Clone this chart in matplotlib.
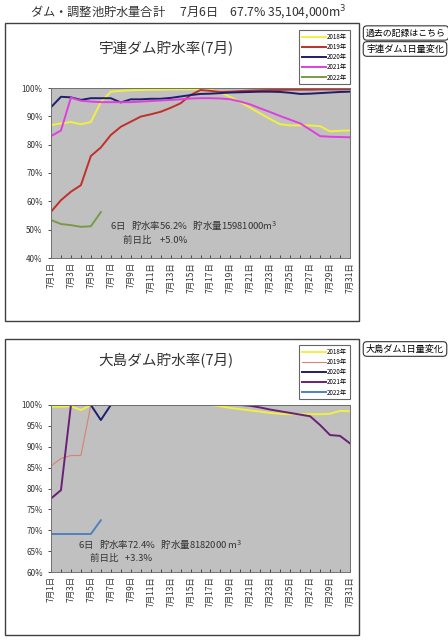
import matplotlib
matplotlib.use('Agg')
import matplotlib.pyplot as plt
from matplotlib.patches import Rectangle
from matplotlib.ticker import FixedLocator, PercentFormatter

plt.rcParams['font.family'] = ['Noto Sans CJK JP', 'DejaVu Sans']

# Data (July, day 1..31)
days = list(range(1, 32))
tick_days = list(range(1, 32, 2))
tick_labels = [f'7月{d}日' for d in tick_days]
years = ['2018年', '2019年', '2020年', '2021年', '2022年']

# 宇連ダム 貯水率 (%)
uren_2018 = [86.9, 87.5, 88.0, 87.2, 88.0, 95.0, 98.7, 99.0, 99.2, 99.3, 99.4,
             99.4, 99.5, 99.5, 99.5, 99.5, 99.3, 98.5, 96.8, 95.0, 93.0, 91.0,
             89.0, 87.2, 86.8, 86.8, 86.8, 86.5, 84.7, 84.9, 85.0]
uren_2019 = [56.3, 60.4, 63.4, 65.7, 76.0, 79.0, 83.4, 86.3, 88.1, 89.9, 90.7,
             91.6, 93.0, 94.6, 97.5, 99.3, 99.0, 98.6, 98.7, 98.9, 99.1, 99.2,
             99.3, 99.3, 99.4, 99.4, 99.4, 99.5, 99.5, 99.5, 99.6]
uren_2020 = [93.2, 96.9, 96.7, 95.8, 96.4, 96.4, 96.4, 94.9, 96.0, 96.0, 96.2,
             96.2, 96.5, 97.0, 97.5, 97.9, 98.0, 98.2, 98.4, 98.5, 98.6, 98.7,
             98.7, 98.6, 98.3, 97.9, 98.0, 98.2, 98.4, 98.6, 98.7]
uren_2021 = [83.0, 85.0, 96.6, 95.5, 95.2, 95.0, 95.0, 95.0, 95.0, 95.2, 95.4,
             95.6, 95.8, 96.0, 96.3, 96.4, 96.4, 96.3, 96.0, 95.2, 94.2, 92.8,
             91.5, 90.1, 88.8, 87.5, 85.3, 83.0, 82.8, 82.7, 82.6]
uren_2022 = [53.4, 52.0, 51.6, 51.0, 51.2, 56.2]

# 大島ダム 貯水率 (%)
oshima_2018 = [99.6, 99.6, 99.7, 98.8, 100, 100, 100, 100, 100, 100, 100,
               100, 100, 100, 100, 100, 100, 99.7, 99.3, 99.0, 98.7, 98.4,
               98.1, 97.9, 97.8, 97.8, 97.8, 97.8, 97.9, 98.6, 98.5]
oshima_2019 = [85.4, 87.2, 87.9, 87.9] + [100] * 27
oshima_2020 = [100, 100, 100, 100, 100, 96.4] + [100] * 25
oshima_2021 = [77.6, 79.6] + [100] * 18 + [99.8, 99.4, 98.9, 98.5, 98.1, 97.7,
                                           97.3, 95.2, 92.8, 92.6, 90.8]
oshima_2022 = [69.1, 69.1, 69.1, 69.1, 69.1, 72.4]

uren_colors = ['#f0f040', '#c0302a', '#1e1e6e', '#dd40dd', '#7a9a48']
oshima_colors = ['#f0f040', '#d9826e', '#1e1e70', '#6a1f78', '#4f81bd']
uren_widths = [1.4] * 5
oshima_widths = [1.4, 0.8, 1.4, 1.4, 1.4]

W, H = 448, 640
fig = plt.figure(figsize=(W / 100, H / 100), dpi=100)


def fx(px):
    return px / W


def fy(py):
    return 1 - py / H


# header
fig.text(fx(30), fy(13), 'ダム・調整池貯水量合計　 7月6日　67.7% 35,104,000m$^3$',
         fontsize=8.8, color='#333333', va='center')

# outer boxes
for top, bottom in [(23, 321), (339, 635)]:
    fig.patches.append(Rectangle((fx(5), fy(bottom)), fx(359) - fx(5),
                                 fy(top) - fy(bottom), transform=fig.transFigure,
                                 fill=False, ec='#404040', lw=1.0))

# buttons
btn = dict(boxstyle='round,pad=0.3,rounding_size=0.4', fc='white', ec='#333333', lw=0.8)
fig.text(fx(366), fy(33), '過去の記録はこちら', fontsize=6.4, va='center', bbox=btn)
fig.text(fx(366), fy(49), '宇連ダム1日量変化', fontsize=6.6, va='center', bbox=btn)
fig.text(fx(366), fy(349), '大島ダム1日量変化', fontsize=6.6, va='center', bbox=btn)


def draw_chart(top_px, bottom_px, title, title_y, series, colors, widths,
               ylim, ystep, legend_top, notes):
    ax = fig.add_axes([fx(51), fy(bottom_px), fx(350) - fx(51), fy(top_px) - fy(bottom_px)])
    ax.set_facecolor('#c0c0c0')
    for vals, c, w, lab in zip(series, colors, widths, years):
        ax.plot(days[:len(vals)], vals, color=c, lw=w, label=lab)
    ax.set_xlim(1, 31)
    ax.set_ylim(*ylim)
    ax.yaxis.set_major_locator(FixedLocator(list(range(ylim[0], ylim[1] + 1, ystep))))
    ax.yaxis.set_major_formatter(PercentFormatter(decimals=0))
    ax.set_xticks(tick_days)
    ax.set_xticklabels(tick_labels, rotation=90)
    ax.xaxis.set_minor_locator(FixedLocator(days))
    ax.tick_params(axis='x', which='both', direction='in', length=2.5, width=0.6,
                   labelsize=6, pad=3, colors='#333333')
    ax.tick_params(axis='y', direction='out', length=2.5, width=0.6,
                   labelsize=5.8, colors='#333333')
    for s in ax.spines.values():
        s.set_color('#707070')
        s.set_linewidth(0.7)
    fig.text(fx(166), fy(title_y), title, fontsize=10.5, ha='center', va='center',
             color='#333333')
    leg = fig.legend(loc='upper right', bbox_to_anchor=(fx(350), fy(legend_top)),
                     handles=ax.get_lines(), fontsize=4.5, handlelength=3.8,
                     handletextpad=0.2, labelspacing=0.35, borderpad=0.45,
                     borderaxespad=0, frameon=True, fancybox=False)
    leg.get_frame().set_edgecolor('#404040')
    leg.get_frame().set_linewidth(0.8)
    for (x, y, t) in notes:
        fig.text(fx(x), fy(y), t, fontsize=6.8, va='center', color='#333333')
    return ax


draw_chart(88, 258, '宇連ダム貯水率(7月)', 48,
           [uren_2018, uren_2019, uren_2020, uren_2021, uren_2022],
           uren_colors, uren_widths, (40, 100), 10, 30,
           [(110, 226, '6日   貯水率56.2%   貯水量15981000m$^3$'),
            (123, 240, '前日比    +5.0%')])

draw_chart(405, 572, '大島ダム貯水率(7月)', 361,
           [oshima_2018, oshima_2019, oshima_2020, oshima_2021, oshima_2022],
           oshima_colors, oshima_widths, (60, 100), 5, 345,
           [(78, 545, '6日   貯水率72.4%   貯水量8182000 m$^3$'),
            (90, 558, '前日比   +3.3%')])

fig.savefig('out.png', dpi=100)
